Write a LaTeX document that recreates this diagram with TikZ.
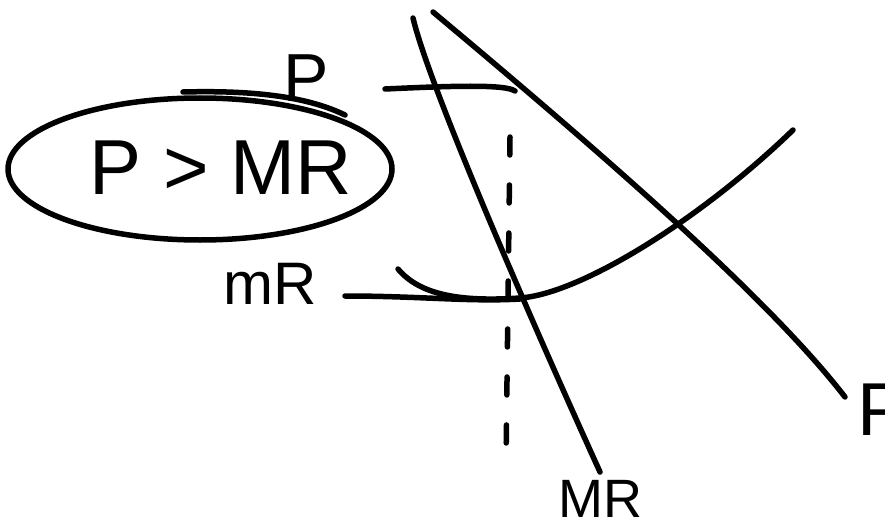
\documentclass[tikz,border=0pt]{standalone}
\usepackage{fontspec}
\setmainfont{Liberation Sans}
\usetikzlibrary{positioning}

\begin{document}
\begin{tikzpicture}[x=1pt, y=-1pt]
    \tikzstyle{stroke} = [line width=5.5pt, line cap=round, line join=round, draw=black]
    \tikzstyle{hand} = [inner sep=0pt, font=\fontsize{68}{76}\selectfont]
    \useasboundingbox (0,0) rectangle (885,532);

    % demand (P) and marginal revenue (MR)
    \coordinate (dtip) at (845,397);
    \coordinate (mrtip) at (600,472);
    \draw [stroke] (433,12) .. controls (610,160) and (770,300) .. (dtip);
    \draw [stroke] (413,18) .. controls (430,90) and (540,340) .. (mrtip);

    % cost curve
    \draw [stroke] (398,269) .. controls (420,295) and (460,302) .. (520,298) .. controls (580,294) and (700,220) .. (793,130);

    % levels
    \draw [stroke] (385,89) .. controls (450,86) and (505,84) .. (515,91);
    \draw [stroke] (345,296) .. controls (420,296) and (470,302) .. (520,299);
    \draw [stroke] (183,92) .. controls (260,90) and (310,98) .. (345,115);
    \draw [stroke, dash pattern=on 18pt off 30pt] (510,137) -- (506,462);

    % circled note
    \draw [stroke] (200,169) ellipse [x radius=192, y radius=71];
    \node [hand, font=\fontsize{78}{86}\selectfont] (note) at (221,168) {P > MR};

    \node [hand] (plvl) at (306,78) {P};
    \node [hand, font=\fontsize{60}{68}\selectfont] (mrlvl) at (270,284) {mR};
    \node [hand, font=\fontsize{54}{62}\selectfont, below=8pt of mrtip] (mrlbl) {MR};
    \node [hand, font=\fontsize{75}{84}\selectfont, anchor=west] (plbl) at (857,410) {P};
\end{tikzpicture}
\end{document}
